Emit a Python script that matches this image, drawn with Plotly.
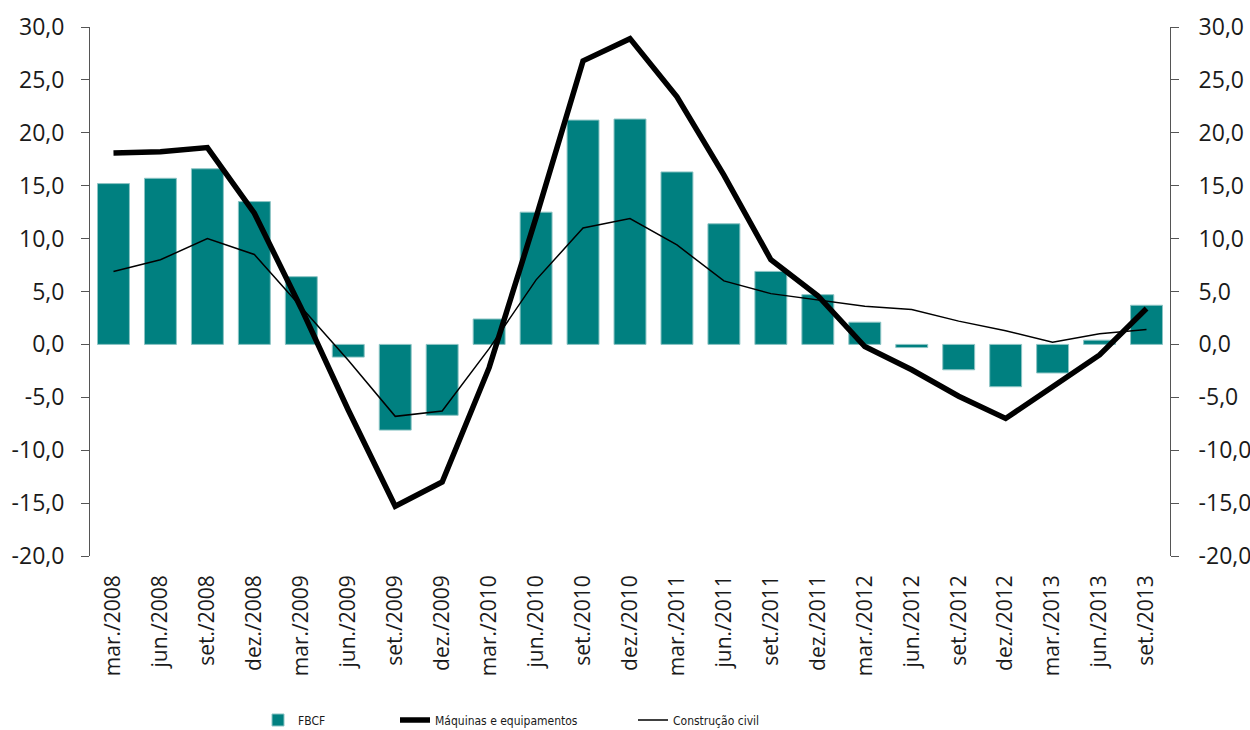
import plotly.graph_objects as go

# trimestres
quarters = ["mar./2008", "jun./2008", "set./2008", "dez./2008",
            "mar./2009", "jun./2009", "set./2009", "dez./2009",
            "mar./2010", "jun./2010", "set./2010", "dez./2010",
            "mar./2011", "jun./2011", "set./2011", "dez./2011",
            "mar./2012", "jun./2012", "set./2012", "dez./2012",
            "mar./2013", "jun./2013", "set./2013"]

fbcf = [15.2, 15.7, 16.6, 13.5, 6.4, -1.2, -8.1, -6.7, 2.4, 12.5, 21.2, 21.3,
        16.3, 11.4, 6.9, 4.7, 2.1, -0.3, -2.4, -4.0, -2.7, 0.4, 3.7]

maquinas = [18.1, 18.2, 18.6, 12.4, 3.4, -6.2, -15.3, -13.0, -2.2, 12.0, 26.8, 28.9,
            23.4, 16.0, 8.0, 4.6, -0.2, -2.4, -4.9, -7.0, -4.0, -1.0, 3.4]

construcao = [6.9, 8.0, 10.0, 8.5, 3.5, -1.5, -6.8, -6.3, -0.4, 6.1, 11.0, 11.9,
              9.4, 6.0, 4.8, 4.2, 3.6, 3.3, 2.2, 1.3, 0.2, 1.0, 1.4]

y_ticks = [-20, -15, -10, -5, 0, 5, 10, 15, 20, 25, 30]
y_labels = [f"{v:.1f}".replace(".", ",") for v in y_ticks]

FONT = "Open Sans"
TXT = "#1a1a1a"

fig = go.Figure()
fig.add_trace(go.Bar(x=quarters, y=fbcf, name="FBCF",
                     marker=dict(color="#008080", line=dict(color="#8cc4c4", width=1)),
                     legend="legend"))
fig.add_trace(go.Scatter(x=quarters, y=construcao, mode="lines", name="Construção civil",
                         line=dict(color="black", width=1.5), yaxis="y2", legend="legend3"))
fig.add_trace(go.Scatter(x=quarters, y=maquinas, mode="lines", name="Máquinas e equipamentos",
                         line=dict(color="black", width=5.5), yaxis="y2", legend="legend2"))

yax = dict(range=[-20, 30], tickvals=y_ticks, ticktext=y_labels, automargin=False,
           showgrid=False, zeroline=False, showline=True, linecolor="#555", linewidth=1,
           ticks="outside", ticklen=8, tickcolor="#555",
           tickfont=dict(family=FONT, size=23, color=TXT))

leg = dict(orientation="h", xref="container", yref="container", y=0.0137, yanchor="middle",
           xanchor="left", itemwidth=30, bgcolor="rgba(0,0,0,0)",
           font=dict(family="DejaVu Sans Condensed", size=12, color=TXT))

fig.update_layout(
    width=1250, height=730,
    margin=dict(l=90, r=80, t=27, b=174),
    paper_bgcolor="white", plot_bgcolor="white",
    bargap=0.32,
    showlegend=True,
    font=dict(family=FONT, color=TXT),
    xaxis=dict(tickangle=-90, showgrid=False, showline=False, ticks="", automargin=False,
               ticklabelstandoff=14, tickfont=dict(family=FONT, size=21, color=TXT)),
    yaxis=dict(yax, ticklabelstandoff=12),
    yaxis2=dict(yax, overlaying="y", side="right", ticklabelstandoff=15),
    legend=dict(leg, x=258 / 1250),
    legend2=dict(leg, x=395 / 1250),
    legend3=dict(leg, x=633 / 1250),
)

# drop the default body margin so the figure fills the window exactly
fig.write_html("out.html", config={"displayModeBar": False},
               post_script="document.body.style.margin='0';")
